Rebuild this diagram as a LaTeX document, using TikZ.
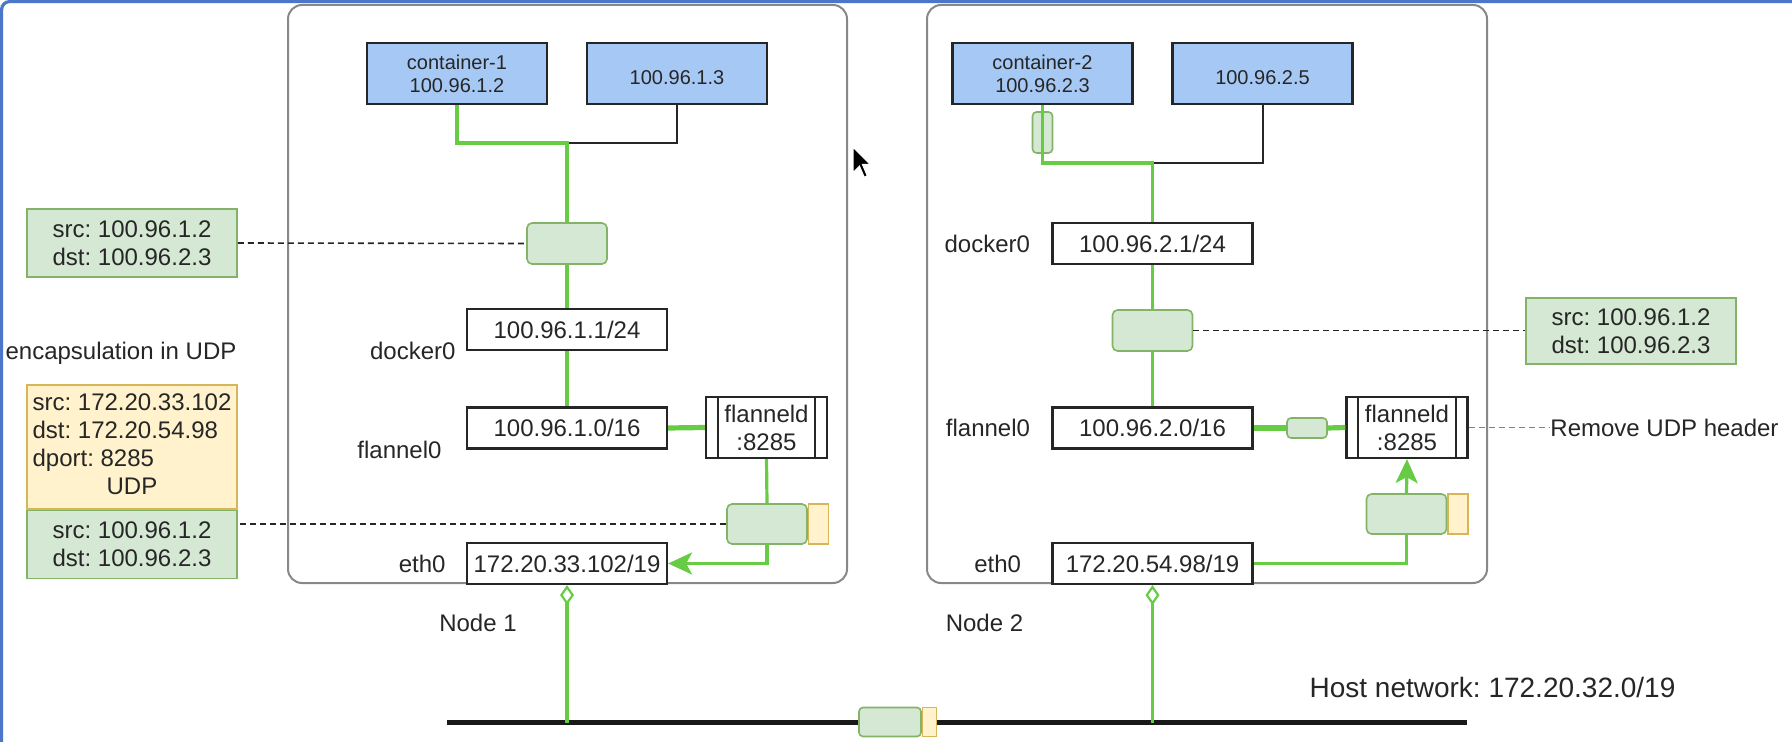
\documentclass[tikz,border=0pt]{standalone}
\usepackage{fontspec}
\setmainfont{Liberation Sans}
\usetikzlibrary{arrows.meta, positioning, calc}
\frenchspacing

\definecolor{podblue}{HTML}{A6C8F4}
\definecolor{pktfill}{HTML}{D5E8D4}
\definecolor{pktline}{HTML}{82B366}
\definecolor{udpfill}{HTML}{FFF2CC}
\definecolor{udpline}{HTML}{D6B656}
\definecolor{wiregreen}{HTML}{66CC44}
\definecolor{framegray}{HTML}{888888}
\definecolor{winblue}{HTML}{4A77C9}

\newcommand{\netfont}{\fontsize{12}{14}\selectfont}
\newcommand{\podfont}{\fontsize{10}{11.5}\selectfont}
\newcommand{\bigfont}{\fontsize{14}{17}\selectfont}

\tikzset{
    hostframe/.style={draw=framegray, line width=1pt, rounded corners=7pt},
    pod/.style={draw=black!85, line width=1.2pt, fill=podblue, minimum width=90pt, minimum height=30.5pt, align=center, font=\podfont, text=black!85, inner sep=0pt},
    iface/.style={draw=black!85, line width=1.1pt, fill=white, minimum width=100pt, minimum height=20.5pt, font=\netfont, text=black!85, inner sep=0pt},
    daemon/.style={draw=black!85, line width=1.1pt, fill=white, minimum width=60.5pt, minimum height=30.5pt, align=center, font=\netfont, text=black!85, inner sep=0pt},
    pkt/.style={draw=pktline, fill=pktfill, line width=0.8pt, rounded corners=2.5pt, minimum width=40pt, minimum height=20.5pt, inner sep=0pt},
    udp/.style={draw=udpline, fill=udpfill, line width=0.8pt, minimum width=10pt, minimum height=20.5pt, inner sep=0pt},
    note/.style={draw=pktline, fill=pktfill, line width=0.8pt, minimum width=105pt, align=center, font=\netfont, text=black!85, inner sep=0pt},
    hdr/.style={draw=udpline, fill=udpfill, line width=0.8pt, minimum width=105pt, minimum height=62pt, font=\netfont, text=black!85, inner sep=0pt},
    lbl/.style={font=\netfont, text=black!85, inner sep=0pt},
    wire/.style={draw=wiregreen, line width=1.6pt},
    thickwire/.style={draw=wiregreen, line width=2.6pt},
    link/.style={draw=black!85, line width=1pt},
    dashlink/.style={draw=black!85, line width=0.8pt, dash pattern=on 3pt off 2pt},
    tiparrow/.style={-{Stealth[length=12pt, width=11pt, inset=3pt]}},
    diamondend/.style={-{Diamond[open, length=10pt, width=7pt, line width=1.1pt]}},
    bus/.style={draw=black!90, line width=2.5pt},
    winedge/.style={draw=winblue, line width=1.6pt, rounded corners=4pt}
}

\begin{document}
\begin{tikzpicture}[x=0.5pt, y=-0.5pt]
    \useasboundingbox (0,0) rectangle (1792,742);
    \draw[winedge] (1.6,742) -- (1.6,1.6) -- (1792,1.6);

    % hosts
    \node[hostframe, minimum width=279.5pt, minimum height=289pt] (node1) at (567.5,294) {};
    \node[hostframe, minimum width=280pt, minimum height=289pt] (node2) at (1207,294) {};

    % node 1
    \node[pod] (c1) at (457,73.5) {container-1\\100.96.1.2};
    \node[pod] (c1b) at (677,73.5) {\mbox{}\\100.96.1.3};
    \node[pkt] (p1) at (567,243.5) {};
    \node[iface] (d1) at (567,329.5) {100.96.1.1/24};
    \node[iface] (f1) at (567,428) {100.96.1.0/16};
    \node[daemon] (fd1) at (766.5,427.5) {flanneld\\:8285};
    \node[pkt, minimum height=20pt] (p2) at (767,524) {};
    \node[udp, minimum height=20pt, right=0pt of p2] (p2u) {};
    \node[iface] (e1) at (567,563.5) {172.20.33.102/19};
    \node[lbl, left=5pt of d1.south west] (d1l) {docker0};
    \node[lbl, left=12pt of f1.south west] (f1l) {flannel0};
    \node[lbl, left=10pt of e1] (e1l) {eth0};
    \node[lbl] (n1l) at (478,623) {Node 1};

    % node 2
    \node[pod] (c2) at (1042.5,73.5) {container-2\\100.96.2.3};
    \node[pod] (c2b) at (1262.5,73.5) {\mbox{}\\100.96.2.5};
    \node[pkt, minimum width=10pt, rounded corners=2pt] (sr) at (1042.5,132.5) {};
    \node[iface] (d2) at (1152.5,243.5) {100.96.2.1/24};
    \node[pkt] (p3) at (1152.5,330.5) {};
    \node[iface] (f2) at (1152.5,428) {100.96.2.0/16};
    \node[pkt, minimum width=20pt, minimum height=10pt, rounded corners=2pt] (sp) at (1307,428) {};
    \node[daemon] (fd2) at (1407,427.5) {flanneld\\:8285};
    \node[pkt, minimum height=20pt] (p4) at (1406.5,514) {};
    \node[udp, minimum height=20pt, right=0pt of p4] (p4u) {};
    \node[iface] (e2) at (1152.5,563.5) {172.20.54.98/19};
    \node[lbl, left=10.5pt of d2] (d2l) {docker0};
    \node[lbl, left=10.5pt of f2] (f2l) {flannel0};
    \node[lbl, left=15pt of e2] (e2l) {eth0};
    \node[lbl] (n2l) at (984.5,623) {Node 2};

    % flanneld side bars
    \draw[link] ([xshift=6.5pt]fd1.north west) -- ([xshift=6.5pt]fd1.south west);
    \draw[link] ([xshift=-6.5pt]fd1.north east) -- ([xshift=-6.5pt]fd1.south east);
    \draw[link] ([xshift=6.5pt]fd2.north west) -- ([xshift=6.5pt]fd2.south west);
    \draw[link] ([xshift=-6.5pt]fd2.north east) -- ([xshift=-6.5pt]fd2.south east);

    % notes
    \node[note, minimum height=34pt] (n1) at (132,243) {src: 100.96.1.2\\dst: 100.96.2.3};
    \node[lbl] (encl) at (121,353) {encapsulation in UDP};
    \node[hdr] (encap) at (132,447) {\begin{tabular}{@{}l@{}}src: 172.20.33.102\\dst: 172.20.54.98\\dport: 8285\\\multicolumn{1}{@{}c@{}}{UDP}\end{tabular}};
    \node[note, minimum height=34pt, below=0pt of encap] (inner) {src: 100.96.1.2\\dst: 100.96.2.3};
    \node[note, minimum height=33pt] (n2) at (1631,331) {src: 100.96.1.2\\dst: 100.96.2.3};
    \node[lbl, anchor=west] (rm) at (1550,427.5) {Remove UDP header};

    % wires node 1
    \coordinate (j1) at (567,143);
    \draw[link] (c1b.south) |- (j1);
    \draw[wire] (c1.south) |- (j1) -- (p1.north);
    \draw[wire] (p1.south) -- (d1.north);
    \draw[wire] (d1.south) -- (f1.north);
    \draw[thickwire] (f1.east) -- (fd1.west);
    \draw[wire] (fd1.south) -- (p2.north);
    \draw[wire, tiparrow] (p2.south) |- (e1.east);
    \draw[dashlink] (n1.east) -- (p1.west);
    \draw[dashlink] (p2.west) -- (p2.west -| inner.east);

    % wires node 2
    \coordinate (j2) at (1152.5,163);
    \draw[link] (c2b.south) |- (j2);
    \draw[wire] (c2.south) |- (j2) -- (d2.north);
    \draw[wire] (d2.south) -- (p3.north);
    \draw[wire] (p3.south) -- (f2.north);
    \draw[thickwire] (f2.east) -- (sp.west);
    \draw[thickwire] (sp.east) -- (fd2.west);
    \draw[wire] (e2.east) -| (p4.south);
    \draw[wire, tiparrow] (p4.north) -- (fd2.south);
    \draw[dashlink] (p3.east) -- (p3.east -| n2.west);
    \draw[dashlink, draw=gray] (fd2.east) -- (rm.west);

    % host network
    \coordinate (busl) at (447,722.5);
    \coordinate (busr) at (1467,722.5);
    \draw[bus] (busl) -- (busr);
    \draw[wire, diamondend] (e1.south |- busl) -- (e1.south);
    \draw[wire, diamondend] (e2.south |- busl) -- (e2.south);
    \node[pkt, minimum width=31pt, minimum height=14.5pt, rounded corners=2pt] (bp) at (890,722) {};
    \node[udp, minimum width=7pt, minimum height=14.5pt, right=0pt of bp] (bpu) {};
    \node[lbl, font=\bigfont] (hn) at (1492.5,687) {Host network: 172.20.32.0/19};

    % pointer
    \filldraw[fill=black, draw=white, line width=0.6pt] (853,147) -- ++(0,25.6) -- ++(6.4,-6.4) -- ++(4.8,11.2) -- ++(3.2,-1.6) -- ++(-4.8,-11.2) -- ++(8,0) -- cycle;
\end{tikzpicture}
\end{document}
